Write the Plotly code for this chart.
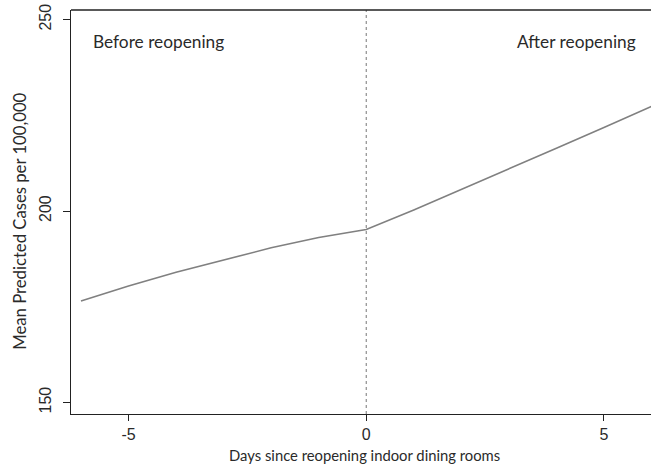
import plotly.graph_objects as go

days = [-6, -5, -4, -3, -2, -1, 0, 1, 2, 3, 4, 5, 6]
predicted = [176.5, 180.4, 184.0, 187.3, 190.4, 193.1, 195.2, 200.3, 205.6, 211.0, 216.4, 221.8, 227.3]
x_ticks = [-5, 0, 5]
x_tick_text = ["-5", "0", "5"]
y_ticks = [150, 200, 250]
y_tick_text = ["150", "200", "250"]

fig = go.Figure()
fig.add_trace(go.Scatter(x=days, y=predicted, mode="lines",
                         line=dict(color="#808080", width=1.6), showlegend=False))
fig.add_vline(x=0, line=dict(color="#777777", width=1, dash="dot"))
fig.add_shape(type="line", xref="paper", yref="paper", x0=0, x1=1, y0=1, y1=1,
              line=dict(color="#222222", width=1.3), layer="above")

tick_font = dict(family="Liberation Sans, Arial, sans-serif", size=16, color="#2a2a2a")
xtitle_font = dict(family="Lato, Open Sans, sans-serif", size=14.8, color="#2a2a2a")
ytitle_font = dict(family="Lato, Open Sans, sans-serif", size=16.7, color="#2a2a2a")
note_font = dict(family="Lato, Open Sans, sans-serif", size=17.3, color="#2a2a2a")

fig.update_layout(
    width=651, height=468,
    margin=dict(l=71, r=0, t=10, b=54),
    plot_bgcolor="white", paper_bgcolor="white",
    xaxis=dict(range=[-6.21, 5.99], tickvals=x_ticks, ticktext=x_tick_text,
               ticks="outside", ticklen=6, automargin=False, ticklabeloverflow="allow",
               tickcolor="#222222", showline=True, linecolor="#222222", linewidth=1.3,
               showgrid=False, zeroline=False, tickfont=tick_font),
    yaxis=dict(range=[147.0, 252.5], tickvals=y_ticks, ticktext=y_tick_text,
               ticks="outside", ticklen=7, automargin=False, ticklabelstandoff=5,
               ticklabeloverflow="allow",
               tickcolor="#222222", showline=True, linecolor="#222222", linewidth=1.3,
               showgrid=False, zeroline=False, tickfont=tick_font, tickangle=-90),
    annotations=[
        dict(text="Days since reopening indoor dining rooms", x=-0.03, xref="x",
             y=0, yref="paper", yshift=-40.5, xanchor="center", yanchor="middle",
             showarrow=False, font=xtitle_font),
        dict(text="Mean Predicted Cases per 100,000", x=0, xref="paper", xshift=-51,
             y=197.2, yref="y", textangle=-90, xanchor="center", yanchor="middle",
             showarrow=False, font=ytitle_font),
        dict(text="Before reopening", x=0.0345, y=0.921, xref="paper", yref="paper",
             xanchor="left", yanchor="middle", showarrow=False, font=note_font),
        dict(text="After reopening", x=0.9776, y=0.921, xref="paper", yref="paper",
             xanchor="right", yanchor="middle", showarrow=False, font=note_font),
    ],
)

# remove the browser's default 8px body margin so the figure fills the window
fig.write_html("out.html", config={"displayModeBar": False},
               post_script="document.body.style.margin='0';")
